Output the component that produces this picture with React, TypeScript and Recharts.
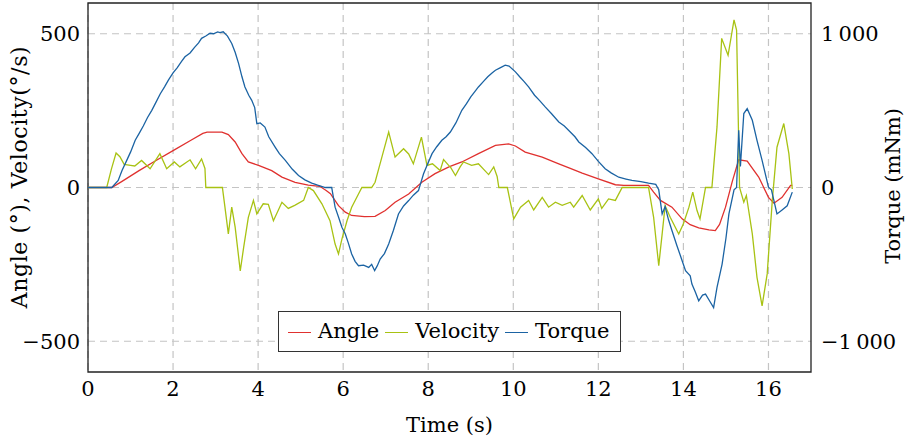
import React from 'react';
import { ComposedChart, Line, XAxis, YAxis, CartesianGrid, ReferenceArea } from 'recharts';

const xTicks = [0, 2, 4, 6, 8, 10, 12, 14, 16];
const leftTicks = [-500, 0, 500];
const rightTicks = [-1000, 0, 1000];

const angleT = [0, 0.56, 0.8, 1.2, 1.6, 2.0, 2.4, 2.7, 2.8, 3.15, 3.3, 3.46, 3.62, 3.77, 4.01, 4.32, 4.56, 4.87, 5.18, 5.45, 5.6, 5.7, 5.89, 6.05, 6.2, 6.5, 6.75, 6.99, 7.22, 7.54, 7.85, 8.16, 8.5, 8.79, 9.18, 9.58, 9.89, 10.05, 10.28, 10.68, 11.07, 11.34, 11.62, 12.0, 12.4, 12.6, 13.18, 13.3, 13.46, 13.73, 13.97, 14.16, 14.36, 14.6, 14.75, 14.85, 14.99, 15.15, 15.3, 15.5, 15.77, 16.0, 16.13, 16.32, 16.52, 16.56];
const angleV = [0, 0, 20, 55, 88, 120, 152, 176, 180, 180, 172, 148, 110, 83, 72, 55, 34, 17, 8, 4, -10, -20, -59, -80, -91, -95, -94, -75, -48, -21, 17, 45, 68, 83, 110, 137, 142, 135, 115, 99, 77, 62, 47, 28, 9, 7, 7, -15, -42, -64, -102, -121, -131, -138, -140, -120, -64, 20, 90, 86, 34, -32, -51, -32, 7, 7];

const velocityT = [0, 0.44, 0.55, 0.66, 0.75, 0.85, 1.0, 1.1, 1.26, 1.46, 1.69, 1.85, 2.03, 2.16, 2.4, 2.53, 2.67, 2.75, 2.77, 3.16, 3.22, 3.3, 3.38, 3.46, 3.58, 3.66, 3.77, 3.89, 3.97, 4.12, 4.24, 4.36, 4.56, 4.71, 4.86, 5.07, 5.18, 5.3, 5.5, 5.69, 5.81, 5.89, 5.97, 6.09, 6.2, 6.36, 6.44, 6.67, 6.75, 6.91, 7.07, 7.22, 7.42, 7.54, 7.65, 7.84, 7.97, 8.1, 8.28, 8.36, 8.48, 8.52, 8.64, 8.75, 8.83, 9.02, 9.18, 9.42, 9.54, 9.62, 9.66, 9.86, 10.01, 10.17, 10.36, 10.48, 10.68, 10.83, 10.99, 11.15, 11.34, 11.42, 11.62, 11.81, 12.0, 12.08, 12.24, 12.4, 12.56, 13.18, 13.3, 13.42, 13.5, 13.57, 13.69, 13.89, 14.0, 14.13, 14.22, 14.32, 14.39, 14.52, 14.67, 14.79, 14.9, 15.05, 15.19, 15.25, 15.32, 15.42, 15.48, 15.62, 15.73, 15.85, 15.97, 16.09, 16.2, 16.36, 16.48, 16.56];
const velocityV = [0, 0, 60, 112, 100, 75, 72, 70, 88, 61, 110, 61, 83, 67, 90, 61, 93, 62, 0, 0, -64, -151, -64, -129, -271, -195, -97, -42, -86, -53, -55, -108, -48, -68, -58, -42, 0, -10, -53, -108, -184, -216, -168, -108, -64, -21, 0, 0, 17, 99, 180, 99, 126, 109, 77, 164, 72, 77, 55, 91, 72, 67, 39, 67, 83, 72, 77, 42, 67, 36, 0, 0, -102, -64, -42, -73, -32, -64, -48, -58, -48, -64, -26, -73, -37, -68, -37, -42, 0, 0, -97, -254, -151, -59, -97, -151, -118, -64, -15, -75, -102, 0, 0, 197, 485, 430, 545, 512, 0, -48, -26, -151, -292, -385, -281, -42, 131, 208, 110, -5];

const torqueT = [0, 0.56, 0.71, 0.8, 0.9, 1.0, 1.11, 1.2, 1.3, 1.4, 1.5, 1.6, 1.7, 1.8, 1.89, 2.0, 2.1, 2.2, 2.28, 2.4, 2.5, 2.6, 2.67, 2.77, 2.87, 2.95, 3.05, 3.1, 3.18, 3.28, 3.38, 3.46, 3.54, 3.62, 3.69, 3.78, 3.85, 3.92, 3.97, 4.05, 4.16, 4.25, 4.4, 4.5, 4.64, 4.8, 4.95, 5.1, 5.26, 5.4, 5.58, 5.73, 5.81, 5.89, 5.97, 6.05, 6.12, 6.2, 6.28, 6.36, 6.48, 6.6, 6.67, 6.74, 6.8, 6.87, 6.97, 7.07, 7.18, 7.3, 7.42, 7.54, 7.65, 7.77, 7.89, 7.98, 8.09, 8.2, 8.32, 8.42, 8.52, 8.65, 8.79, 8.9, 9.0, 9.1, 9.18, 9.3, 9.4, 9.5, 9.58, 9.7, 9.81, 9.9, 10.05, 10.15, 10.25, 10.36, 10.5, 10.62, 10.75, 10.9, 11.07, 11.2, 11.34, 11.45, 11.54, 11.7, 11.85, 12.0, 12.16, 12.3, 12.48, 12.65, 12.79, 13.0, 13.18, 13.35, 13.42, 13.5, 13.57, 13.65, 13.73, 13.85, 13.97, 14.05, 14.16, 14.2, 14.28, 14.36, 14.45, 14.52, 14.62, 14.71, 14.79, 14.91, 15.0, 15.07, 15.19, 15.25, 15.3, 15.34, 15.42, 15.5, 15.62, 15.73, 15.85, 16.0, 16.07, 16.2, 16.32, 16.44, 16.56];
const torqueV = [0, 0, 46, 110, 170, 230, 307, 350, 400, 455, 502, 555, 610, 655, 698, 745, 780, 820, 850, 875, 910, 940, 970, 985, 1003, 1000, 1012, 1008, 1013, 985, 937, 880, 807, 720, 654, 600, 567, 520, 415, 420, 393, 330, 263, 220, 176, 120, 78, 50, 28, 15, 0, 0, -128, -192, -259, -302, -360, -432, -480, -509, -505, -520, -500, -541, -510, -465, -430, -367, -280, -172, -120, -85, -50, -20, 89, 150, 220, 265, 307, 330, 361, 420, 502, 545, 590, 625, 654, 690, 720, 745, 763, 780, 796, 790, 752, 720, 690, 654, 600, 565, 524, 480, 426, 400, 361, 330, 296, 260, 220, 170, 122, 95, 67, 55, 46, 38, 28, 20, -15, -172, -124, -210, -280, -380, -476, -541, -574, -628, -680, -737, -700, -693, -740, -781, -650, -498, -330, -172, -15, 0, 372, 137, 481, 513, 437, 307, 176, 2, -15, -172, -146, -119, -30];

const seriesNames = ['Angle', 'Velocity', 'Torque'];
const seriesColors = ['#e0312f', '#a8c213', '#1b63a3'];

const angleData = angleT.map((t, i) => ({ t, v: angleV[i] }));
const velocityData = velocityT.map((t, i) => ({ t, v: velocityV[i] }));
const torqueData = torqueT.map((t, i) => ({ t, v: torqueV[i] }));

const FONT = 'DejaVu Serif, serif';
const FS = 21;

const fmtMinus = (v: number) => (v < 0 ? '\u2212' + Math.abs(v) : String(v));
const fmtThousands = (v: number) => {
  const a = Math.abs(v);
  const s = a >= 1000 ? Math.floor(a / 1000) + '\u2009' + String(a % 1000).padStart(3, '0') : String(a);
  return (v < 0 ? '\u2212' : '') + s;
};

const LegendBox = () => (
  <div
    style={{
      position: 'absolute',
      left: 278,
      top: 311,
      display: 'flex',
      alignItems: 'center',
      border: '1px solid #333',
      background: '#fff',
      padding: '5px 10px 6px 9px',
      fontFamily: FONT,
      fontSize: FS,
      lineHeight: '28px',
      color: '#000',
      whiteSpace: 'nowrap',
    }}
  >
    {seriesNames.map((n, i) => (
      <div key={n} style={{ display: 'flex', alignItems: 'center', marginLeft: i === 0 ? 0 : 6 }}>
        <span style={{ display: 'inline-block', width: 23, height: 0, borderTop: `1.5px solid ${seriesColors[i]}`, marginRight: 7, marginTop: 2 }} />
        <span>{n}</span>
      </div>
    ))}
  </div>
);

const tickStyle = { fontSize: FS, fill: '#000', fontFamily: FONT };

export default function App() {
  return (
    <div style={{ position: 'absolute', left: 0, top: 0, width: 912, height: 442, background: '#fff' }}>
      <ComposedChart width={912} height={442} margin={{ top: 3, right: 0, bottom: 0, left: 0 }}>
        <CartesianGrid xAxisId="x" yAxisId="left" stroke="#c4c4c4" strokeWidth={1.2} strokeDasharray="7 5" verticalValues={xTicks} horizontalValues={leftTicks} />
        <XAxis
          xAxisId="x"
          dataKey="t"
          type="number"
          domain={[0, 17]}
          ticks={xTicks}
          allowDataOverflow
          height={70}
          tickSize={0}
          tickMargin={9}
          axisLine={false}
          tickLine={false}
          tick={tickStyle}
          label={(p: any) => {
            const vb = p.viewBox;
            return (
              <text x={vb.x + vb.width / 2} y={432} textAnchor="middle" fontSize={FS} fontFamily={FONT} fill="#000">
                Time (s)
              </text>
            );
          }}
        />
        <YAxis
          yAxisId="left"
          type="number"
          domain={[-600, 600]}
          ticks={leftTicks}
          allowDataOverflow
          width={88}
          tickSize={0}
          tickMargin={8}
          axisLine={false}
          tickLine={false}
          tickFormatter={fmtMinus}
          tick={tickStyle}
          label={() => (
            <text transform="translate(27,177) rotate(-90)" textAnchor="middle" fontSize={22} fontFamily={FONT} letterSpacing={0.6} fill="#000">
              Angle (°), Velocity(°/s)
            </text>
          )}
        />
        <YAxis
          yAxisId="right"
          orientation="right"
          type="number"
          domain={[-1200, 1200]}
          ticks={rightTicks}
          allowDataOverflow
          width={101}
          tickSize={0}
          tickMargin={10}
          axisLine={false}
          tickLine={false}
          tickFormatter={fmtThousands}
          tick={{ ...tickStyle, textAnchor: 'start' }}
          label={() => (
            <text transform="translate(900,186) rotate(-90)" textAnchor="middle" fontSize={FS} fontFamily={FONT} fill="#000">
              Torque (mNm)
            </text>
          )}
        />
        <Line xAxisId="x" yAxisId="left" data={angleData} dataKey="v" name={seriesNames[0]} stroke={seriesColors[0]} strokeWidth={1.3} dot={false} type="linear" isAnimationActive={false} />
        <Line xAxisId="x" yAxisId="left" data={velocityData} dataKey="v" name={seriesNames[1]} stroke={seriesColors[1]} strokeWidth={1.3} dot={false} type="linear" isAnimationActive={false} />
        <Line xAxisId="x" yAxisId="right" data={torqueData} dataKey="v" name={seriesNames[2]} stroke={seriesColors[2]} strokeWidth={1.3} dot={false} type="linear" isAnimationActive={false} />
        <ReferenceArea xAxisId="x" yAxisId="left" x1={0} x2={17} y1={-600} y2={600} fill="none" stroke="#222" strokeWidth={1.3} ifOverflow="visible" />
      </ComposedChart>
      <LegendBox />
    </div>
  );
}
